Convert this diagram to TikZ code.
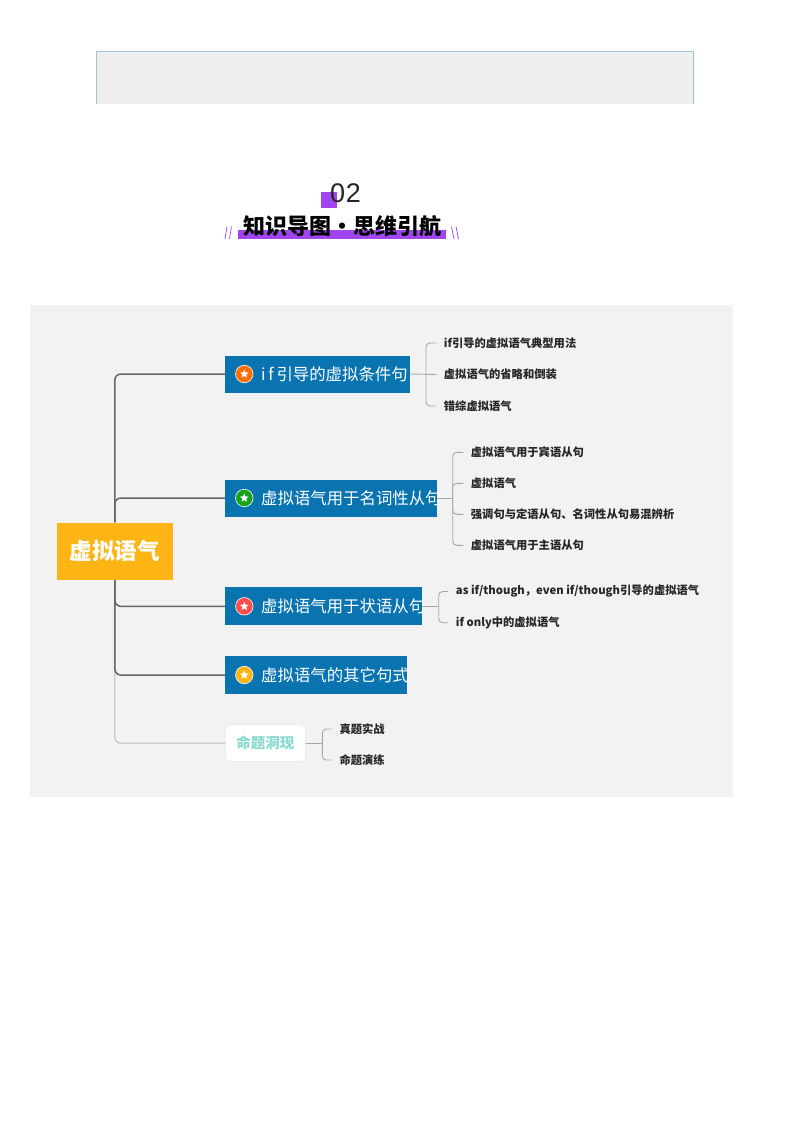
\documentclass[tikz,border=0pt]{standalone}
\usepackage{fontspec}
\setmainfont{Noto Sans CJK SC}
\newfontfamily\digitfont{Liberation Sans}
\usetikzlibrary{shapes.geometric}
\definecolor{panel}{HTML}{F2F2F2}
\definecolor{topfill}{HTML}{EFEFEF}
\definecolor{topedge}{HTML}{9CC4D6}
\definecolor{blue}{HTML}{0A74B1}
\definecolor{rootc}{HTML}{FDB515}
\definecolor{purp}{HTML}{A145F0}
\definecolor{teal}{HTML}{8AD8D0}
\definecolor{ink}{HTML}{262626}
\newcommand\lefttext[2]{\makebox[#1pt][l]{\hspace*{36pt}#2}}
\tikzset{
  rootbox/.style={fill=rootc,text=white,inner sep=0pt,minimum width=116.3pt,minimum height=57.3pt,font=\fontsize{22.5}{24}\selectfont\bfseries},
  branchbox/.style={fill=blue,text=white,inner sep=0pt,anchor=west,minimum height=37pt,font=\fontsize{16.4}{18}\selectfont},
  whitebox/.style={fill=white,draw=black!10,line width=.5pt,rounded corners=4pt,text=teal,inner sep=0pt,anchor=west,minimum width=80pt,minimum height=36.5pt,font=\fontsize{14.5}{16}\selectfont\bfseries},
  leaf/.style={anchor=west,inner ysep=0pt,inner xsep=7.3pt,text=ink,font=\fontsize{11.3}{13}\selectfont\bfseries},
  trunk/.style={draw=black!60,line width=1.5pt,rounded corners=6pt},
  trunklight/.style={draw=black!27,line width=1pt,rounded corners=6pt},
  twig/.style={draw=black!35,line width=.9pt,rounded corners=4pt},
  badge/.style={circle,draw=white,line width=.6pt,minimum size=17.5pt,inner sep=0pt},
  starmark/.style={star,star points=5,star point ratio=2.2,fill=white,minimum size=9pt,inner sep=0pt},
  slash/.style={draw=purp,line width=.7pt}
}
\begin{document}
\begin{tikzpicture}[x=1pt,y=-1pt]
\useasboundingbox (0,0) rectangle (800,1132);
\fill[white] (0,0) rectangle (800,1132);
% top band
\fill[topfill] (96,51.5) rectangle (693.5,104);
\draw[topedge,line width=.8pt] (96,104) -- (96,51.5) -- (693.5,51.5) -- (693.5,104);
% heading
\fill[purp] (321,192) rectangle (337,208);
\node[inner sep=0pt,text=black!85,font=\digitfont\fontsize{27}{29}\selectfont] (num) at (345.5,193.5) {0\kern.6pt2};
\fill[purp] (238,230) rectangle (446,238.7);
\node[inner sep=0pt,text=black,font=\fontsize{22}{24}\selectfont\bfseries] (title) at (342,226) {知识导图·思维引航};
\draw[slash] (227,226.5) -- (225,239) (231.5,226.5) -- (229.5,239);
\draw[slash] (451.5,226.5) -- (454,239) (456,226.5) -- (458.5,239);
% panel
\fill[panel] (30,305) rectangle (733,797);
% main nodes
\node[rootbox] (root) at (114.85,551.3) {虚拟语气};
\node[branchbox] (b1) at (225,374) {\lefttext{184.7}{i\,f\,引导的虚拟条件句}};
\node[branchbox] (b2) at (225,498) {\lefttext{212}{虚拟语气用于名词性从句}};
\node[branchbox,minimum height=38pt] (b3) at (225,606.3) {\lefttext{197}{虚拟语气用于状语从句}};
\node[branchbox,minimum height=37.4pt] (b4) at (225,675) {\lefttext{181.3}{虚拟语气的其它句式}};
\node[whitebox] (b5) at (225,743.2) {命题洞现};
% badges
\node[badge,fill=orange!85!red] (i1) at (244.3,374) {};
\node[starmark] (s1) at (i1) {};
\node[badge,fill=green!60!black!90!white] (i2) at (244.3,498) {};
\node[starmark] (s2) at (i2) {};
\node[badge,fill=red!70!white] (i3) at (244.3,606.3) {};
\node[starmark] (s3) at (i3) {};
\node[badge,fill=rootc] (i4) at (244.3,675) {};
\node[starmark] (s4) at (i4) {};
% trunk
\draw[trunklight] (root.south) |- (b5.west);
\draw[trunk] (root.north) |- (b1.west);
\draw[trunk] (root.north) |- (b2.west);
\draw[trunk] (root.south) |- (b3.west);
\draw[trunk] (root.south) |- (b4.west);
% leaves 1
\node[leaf] (a1) at (436.4,343) {if引导的虚拟语气典型用法};
\node[leaf] (a2) at (436.4,374.5) {虚拟语气的省略和倒装};
\node[leaf] (a3) at (436.4,406) {错综虚拟语气};
\coordinate (j1) at (426,374);
\draw[twig] (b1.east) -- (a2.west);
\draw[twig] (j1) |- (a1.west);
\draw[twig] (j1) |- (a3.west);
% leaves 2
\node[leaf] (c1) at (463.4,452.3) {虚拟语气用于宾语从句};
\node[leaf] (c2) at (463.4,483.3) {虚拟语气};
\node[leaf] (c3) at (463.4,514.3) {强调句与定语从句、名词性从句易混辨析};
\node[leaf] (c4) at (463.4,545.3) {虚拟语气用于主语从句};
\coordinate (j2) at (452.7,498);
\draw[twig] (b2.east) -- (j2);
\draw[twig] (j2) |- (c1.west);
\draw[twig] (j2) |- (c2.west);
\draw[twig] (j2) |- (c3.west);
\draw[twig] (j2) |- (c4.west);
% leaves 3
\node[leaf] (d1) at (448.4,591.5) {as if/though，even if/though引导的虚拟语气};
\node[leaf] (d2) at (448.4,622.7) {if only中的虚拟语气};
\coordinate (j3) at (438.7,606.3);
\draw[twig] (b3.east) -- (j3);
\draw[twig] (j3) |- (d1.west);
\draw[twig] (j3) |- (d2.west);
% leaves 5
\node[leaf] (e1) at (332,729) {真题实战};
\node[leaf] (e2) at (332,760) {命题演练};
\coordinate (j5) at (322.3,743.2);
\draw[twig] (b5.east) -- (j5);
\draw[twig] (j5) |- (e1.west);
\draw[twig] (j5) |- (e2.west);
\end{tikzpicture}
\end{document}
